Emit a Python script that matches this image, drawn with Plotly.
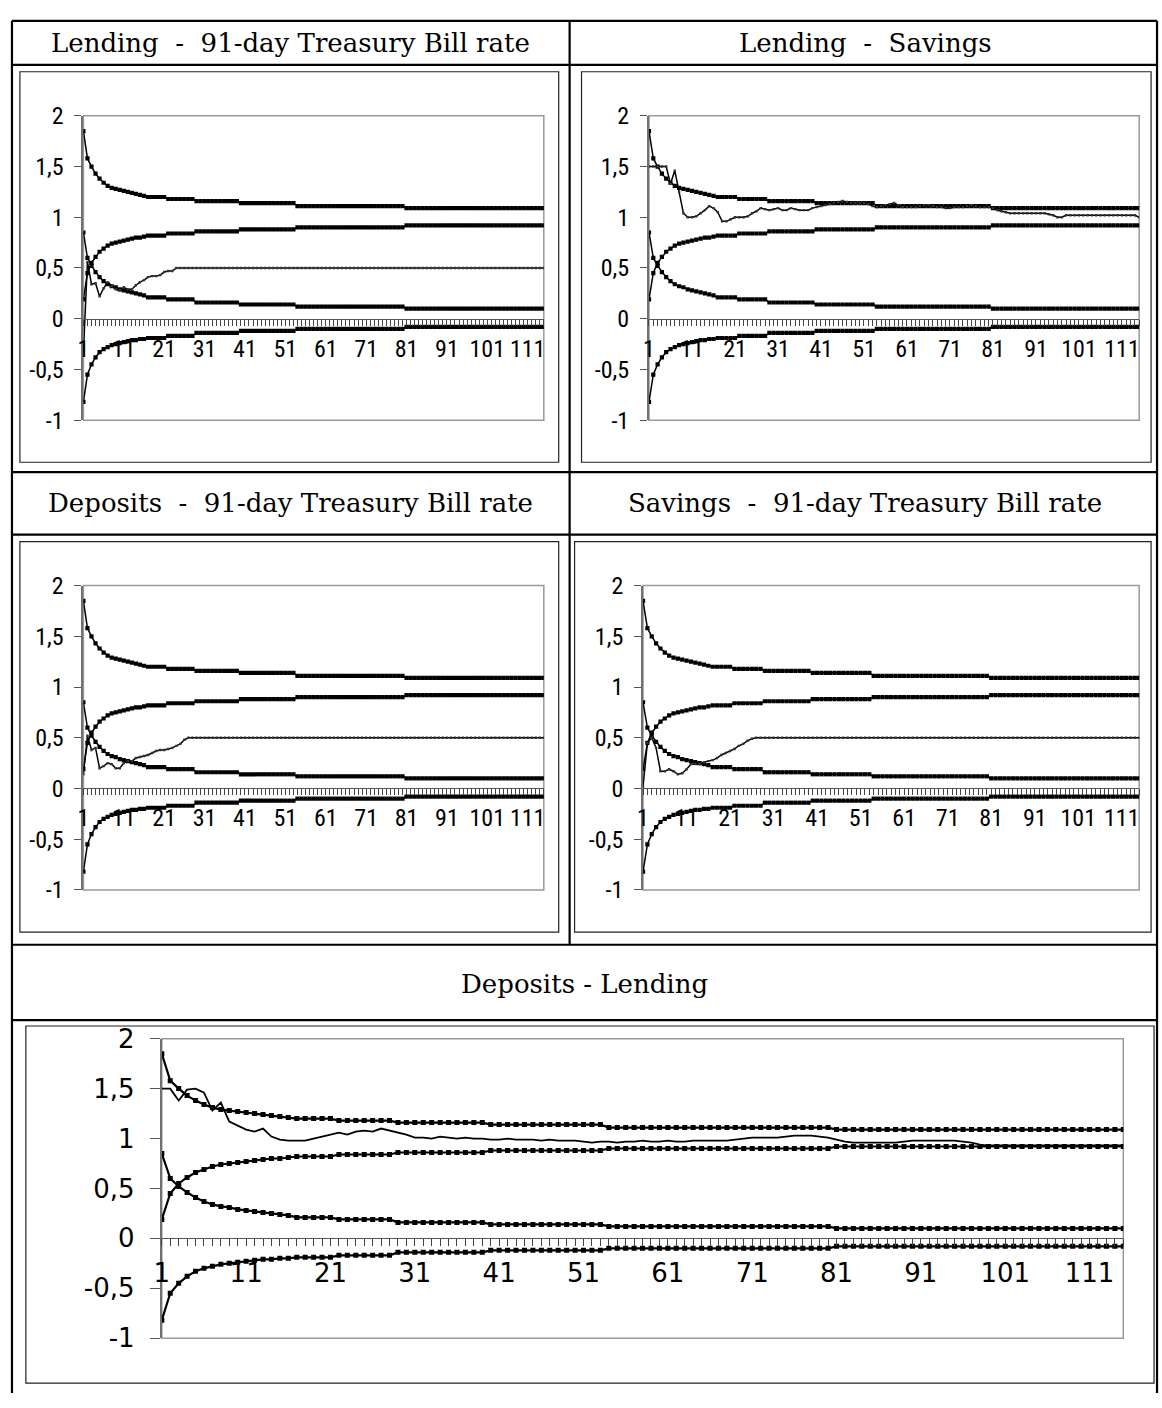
import plotly.graph_objects as go

W, H = 1162, 1408

CATEGORIES = list(range(1, 116))
X_TICKS = [1, 11, 21, 31, 41, 51, 61, 71, 81, 91, 101, 111]
X_TICK_TEXT = ["1", "11", "21", "31", "41", "51", "61", "71", "81", "91", "101", "111"]
Y_TICKS = [-1, -0.5, 0, 0.5, 1, 1.5, 2]
Y_TICK_TEXT = ["-1", "-0,5", "0", "0,5", "1", "1,5", "2"]

PANEL_TITLES = [
    "Lending\u00a0 -\u00a0 91-day Treasury Bill rate",
    "Lending\u00a0 -\u00a0 Savings",
    "Deposits\u00a0 -\u00a0 91-day Treasury Bill rate",
    "Savings\u00a0 -\u00a0 91-day Treasury Bill rate",
    "Deposits - Lending",
]

UPPER_1 = [
    1.85, 1.58, 1.50, 1.43, 1.38, 1.34, 1.31, 1.29, 1.28, 1.27,
    1.26, 1.25, 1.24, 1.23, 1.22, 1.21, 1.20, 1.20, 1.20, 1.20,
    1.20, 1.18, 1.18, 1.18, 1.18, 1.18, 1.18, 1.18, 1.16, 1.16,
    1.16, 1.16, 1.16, 1.16, 1.16, 1.16, 1.16, 1.16, 1.16, 1.14,
    1.14, 1.14, 1.14, 1.14, 1.14, 1.14, 1.14, 1.14, 1.14, 1.14,
    1.14, 1.14, 1.14, 1.11, 1.11, 1.11, 1.11, 1.11, 1.11, 1.11,
    1.11, 1.11, 1.11, 1.11, 1.11, 1.11, 1.11, 1.11, 1.11, 1.11,
    1.11, 1.11, 1.11, 1.11, 1.11, 1.11, 1.11, 1.11, 1.11, 1.11,
    1.09, 1.09, 1.09, 1.09, 1.09, 1.09, 1.09, 1.09, 1.09, 1.09,
    1.09, 1.09, 1.09, 1.09, 1.09, 1.09, 1.09, 1.09, 1.09, 1.09,
    1.09, 1.09, 1.09, 1.09, 1.09, 1.09, 1.09, 1.09, 1.09, 1.09,
    1.09, 1.09, 1.09, 1.09, 1.09,
]
LOWER_1 = [
    0.19, 0.45, 0.55, 0.61, 0.66, 0.69, 0.72, 0.74, 0.75, 0.76,
    0.77, 0.78, 0.79, 0.80, 0.80, 0.81, 0.82, 0.82, 0.82, 0.82,
    0.82, 0.84, 0.84, 0.84, 0.84, 0.84, 0.84, 0.84, 0.86, 0.86,
    0.86, 0.86, 0.86, 0.86, 0.86, 0.86, 0.86, 0.86, 0.86, 0.88,
    0.88, 0.88, 0.88, 0.88, 0.88, 0.88, 0.88, 0.88, 0.88, 0.88,
    0.88, 0.88, 0.88, 0.90, 0.90, 0.90, 0.90, 0.90, 0.90, 0.90,
    0.90, 0.90, 0.90, 0.90, 0.90, 0.90, 0.90, 0.90, 0.90, 0.90,
    0.90, 0.90, 0.90, 0.90, 0.90, 0.90, 0.90, 0.90, 0.90, 0.90,
    0.92, 0.92, 0.92, 0.92, 0.92, 0.92, 0.92, 0.92, 0.92, 0.92,
    0.92, 0.92, 0.92, 0.92, 0.92, 0.92, 0.92, 0.92, 0.92, 0.92,
    0.92, 0.92, 0.92, 0.92, 0.92, 0.92, 0.92, 0.92, 0.92, 0.92,
    0.92, 0.92, 0.92, 0.92, 0.92,
]
UPPER_0 = [
    0.85, 0.60, 0.52, 0.46, 0.41, 0.37, 0.34, 0.32, 0.31, 0.29,
    0.28, 0.27, 0.26, 0.25, 0.24, 0.23, 0.21, 0.21, 0.21, 0.21,
    0.21, 0.19, 0.19, 0.19, 0.19, 0.19, 0.19, 0.19, 0.16, 0.16,
    0.16, 0.16, 0.16, 0.16, 0.16, 0.16, 0.16, 0.16, 0.16, 0.14,
    0.14, 0.14, 0.14, 0.14, 0.14, 0.14, 0.14, 0.14, 0.14, 0.14,
    0.14, 0.14, 0.14, 0.12, 0.12, 0.12, 0.12, 0.12, 0.12, 0.12,
    0.12, 0.12, 0.12, 0.12, 0.12, 0.12, 0.12, 0.12, 0.12, 0.12,
    0.12, 0.12, 0.12, 0.12, 0.12, 0.12, 0.12, 0.12, 0.12, 0.12,
    0.10, 0.10, 0.10, 0.10, 0.10, 0.10, 0.10, 0.10, 0.10, 0.10,
    0.10, 0.10, 0.10, 0.10, 0.10, 0.10, 0.10, 0.10, 0.10, 0.10,
    0.10, 0.10, 0.10, 0.10, 0.10, 0.10, 0.10, 0.10, 0.10, 0.10,
    0.10, 0.10, 0.10, 0.10, 0.10,
]
LOWER_0 = [
    -0.82, -0.55, -0.45, -0.38, -0.33, -0.30, -0.28, -0.26, -0.25, -0.24,
    -0.23, -0.22, -0.21, -0.21, -0.20, -0.20, -0.19, -0.19, -0.19, -0.19,
    -0.19, -0.17, -0.17, -0.17, -0.17, -0.17, -0.17, -0.17, -0.14, -0.14,
    -0.14, -0.14, -0.14, -0.14, -0.14, -0.14, -0.14, -0.14, -0.14, -0.12,
    -0.12, -0.12, -0.12, -0.12, -0.12, -0.12, -0.12, -0.12, -0.12, -0.12,
    -0.12, -0.12, -0.12, -0.10, -0.10, -0.10, -0.10, -0.10, -0.10, -0.10,
    -0.10, -0.10, -0.10, -0.10, -0.10, -0.10, -0.10, -0.10, -0.10, -0.10,
    -0.10, -0.10, -0.10, -0.10, -0.10, -0.10, -0.10, -0.10, -0.10, -0.10,
    -0.08, -0.08, -0.08, -0.08, -0.08, -0.08, -0.08, -0.08, -0.08, -0.08,
    -0.08, -0.08, -0.08, -0.08, -0.08, -0.08, -0.08, -0.08, -0.08, -0.08,
    -0.08, -0.08, -0.08, -0.08, -0.08, -0.08, -0.08, -0.08, -0.08, -0.08,
    -0.08, -0.08, -0.08, -0.08, -0.08,
]

LENDING_TBILL = [
    -0.33, 0.56, 0.34, 0.35, 0.22, 0.30, 0.36, 0.32, 0.29, 0.28,
    0.31, 0.29, 0.29, 0.33, 0.36, 0.38, 0.41, 0.42, 0.42, 0.43,
    0.46, 0.47, 0.47, 0.50, 0.50, 0.50, 0.50, 0.50, 0.50, 0.50,
    0.50, 0.50, 0.50, 0.50, 0.50, 0.50, 0.50, 0.50, 0.50, 0.50,
    0.50, 0.50, 0.50, 0.50, 0.50, 0.50, 0.50, 0.50, 0.50, 0.50,
    0.50, 0.50, 0.50, 0.50, 0.50, 0.50, 0.50, 0.50, 0.50, 0.50,
    0.50, 0.50, 0.50, 0.50, 0.50, 0.50, 0.50, 0.50, 0.50, 0.50,
    0.50, 0.50, 0.50, 0.50, 0.50, 0.50, 0.50, 0.50, 0.50, 0.50,
    0.50, 0.50, 0.50, 0.50, 0.50, 0.50, 0.50, 0.50, 0.50, 0.50,
    0.50, 0.50, 0.50, 0.50, 0.50, 0.50, 0.50, 0.50, 0.50, 0.50,
    0.50, 0.50, 0.50, 0.50, 0.50, 0.50, 0.50, 0.50, 0.50, 0.50,
    0.50, 0.50, 0.50, 0.50, 0.50,
]
LENDING_SAVINGS = [
    1.50, 1.50, 1.50, 1.50, 1.50, 1.33, 1.46, 1.25, 1.04, 1.00,
    1.00, 1.01, 1.04, 1.07, 1.11, 1.09, 1.05, 0.96, 0.96, 0.98,
    1.00, 1.00, 1.00, 1.01, 1.04, 1.06, 1.09, 1.08, 1.07, 1.08,
    1.09, 1.07, 1.07, 1.09, 1.08, 1.07, 1.07, 1.07, 1.09, 1.10,
    1.11, 1.12, 1.13, 1.14, 1.15, 1.16, 1.15, 1.14, 1.14, 1.14,
    1.14, 1.13, 1.11, 1.10, 1.11, 1.12, 1.13, 1.14, 1.12, 1.10,
    1.10, 1.10, 1.10, 1.11, 1.12, 1.12, 1.11, 1.10, 1.10, 1.09,
    1.09, 1.10, 1.10, 1.10, 1.11, 1.12, 1.11, 1.10, 1.10, 1.10,
    1.09, 1.07, 1.06, 1.05, 1.04, 1.04, 1.04, 1.04, 1.04, 1.04,
    1.04, 1.04, 1.04, 1.03, 1.02, 1.00, 1.00, 1.02, 1.02, 1.02,
    1.02, 1.02, 1.02, 1.02, 1.02, 1.02, 1.02, 1.02, 1.02, 1.02,
    1.02, 1.02, 1.02, 1.02, 1.00,
]
DEPOSITS_TBILL = [
    0.14, 0.52, 0.38, 0.40, 0.20, 0.22, 0.25, 0.24, 0.20, 0.20,
    0.25, 0.27, 0.27, 0.30, 0.31, 0.32, 0.33, 0.35, 0.37, 0.38,
    0.38, 0.39, 0.40, 0.42, 0.44, 0.48, 0.50, 0.50, 0.50, 0.50,
    0.50, 0.50, 0.50, 0.50, 0.50, 0.50, 0.50, 0.50, 0.50, 0.50,
    0.50, 0.50, 0.50, 0.50, 0.50, 0.50, 0.50, 0.50, 0.50, 0.50,
    0.50, 0.50, 0.50, 0.50, 0.50, 0.50, 0.50, 0.50, 0.50, 0.50,
    0.50, 0.50, 0.50, 0.50, 0.50, 0.50, 0.50, 0.50, 0.50, 0.50,
    0.50, 0.50, 0.50, 0.50, 0.50, 0.50, 0.50, 0.50, 0.50, 0.50,
    0.50, 0.50, 0.50, 0.50, 0.50, 0.50, 0.50, 0.50, 0.50, 0.50,
    0.50, 0.50, 0.50, 0.50, 0.50, 0.50, 0.50, 0.50, 0.50, 0.50,
    0.50, 0.50, 0.50, 0.50, 0.50, 0.50, 0.50, 0.50, 0.50, 0.50,
    0.50, 0.50, 0.50, 0.50, 0.50,
]
SAVINGS_TBILL = [
    0.02, 0.45, 0.50, 0.40, 0.17, 0.17, 0.19, 0.17, 0.14, 0.15,
    0.19, 0.24, 0.24, 0.24, 0.26, 0.27, 0.28, 0.30, 0.33, 0.35,
    0.37, 0.39, 0.42, 0.44, 0.47, 0.49, 0.50, 0.50, 0.50, 0.50,
    0.50, 0.50, 0.50, 0.50, 0.50, 0.50, 0.50, 0.50, 0.50, 0.50,
    0.50, 0.50, 0.50, 0.50, 0.50, 0.50, 0.50, 0.50, 0.50, 0.50,
    0.50, 0.50, 0.50, 0.50, 0.50, 0.50, 0.50, 0.50, 0.50, 0.50,
    0.50, 0.50, 0.50, 0.50, 0.50, 0.50, 0.50, 0.50, 0.50, 0.50,
    0.50, 0.50, 0.50, 0.50, 0.50, 0.50, 0.50, 0.50, 0.50, 0.50,
    0.50, 0.50, 0.50, 0.50, 0.50, 0.50, 0.50, 0.50, 0.50, 0.50,
    0.50, 0.50, 0.50, 0.50, 0.50, 0.50, 0.50, 0.50, 0.50, 0.50,
    0.50, 0.50, 0.50, 0.50, 0.50, 0.50, 0.50, 0.50, 0.50, 0.50,
    0.50, 0.50, 0.50, 0.50, 0.50,
]
DEPOSITS_LENDING = [
    1.50, 1.50, 1.38, 1.49, 1.50, 1.46, 1.28, 1.36, 1.17, 1.13,
    1.09, 1.07, 1.10, 1.02, 0.99, 0.98, 0.98, 0.98, 1.00, 1.02,
    1.04, 1.06, 1.04, 1.07, 1.08, 1.07, 1.10, 1.08, 1.06, 1.04,
    1.01, 1.01, 1.00, 1.02, 1.01, 1.00, 1.01, 1.00, 1.00, 0.99,
    0.99, 1.00, 0.99, 0.99, 0.99, 0.98, 0.99, 0.98, 0.98, 0.98,
    0.97, 0.96, 0.97, 0.97, 0.96, 0.97, 0.97, 0.98, 0.97, 0.97,
    0.98, 0.97, 0.97, 0.98, 0.98, 0.98, 0.98, 0.98, 0.99, 1.00,
    1.01, 1.01, 1.01, 1.01, 1.02, 1.03, 1.03, 1.03, 1.02, 1.01,
    0.99, 0.97, 0.96, 0.96, 0.96, 0.96, 0.96, 0.96, 0.97, 0.98,
    0.98, 0.98, 0.98, 0.98, 0.98, 0.97, 0.96, 0.94, 0.93, 0.93,
    0.93, 0.93, 0.93, 0.93, 0.93, 0.93, 0.93, 0.93, 0.93, 0.93,
    0.93, 0.93, 0.93, 0.93, 0.93,
]

SERIES = [LENDING_TBILL, LENDING_SAVINGS, DEPOSITS_TBILL, SAVINGS_TBILL, DEPOSITS_LENDING]
BANDS = [UPPER_1, LOWER_1, UPPER_0, LOWER_0]

# ---- layout geometry (pixels) ----
NARROW = "Liberation Sans Narrow, Arial Narrow, Roboto Condensed, DejaVu Sans Condensed, Liberation Sans, sans-serif"
WIDE = "DejaVu Sans, Verdana, sans-serif"
SERIF = "DejaVu Serif, Liberation Serif, serif"

PANELS = [
    dict(box=(12, 58, 555, 457), plot=(76, 103, 540, 414), head=(285, 29), big=False),
    dict(box=(578, 58, 1152, 457), plot=(646, 103, 1140, 414), head=(864, 29), big=False),
    dict(box=(12, 538, 555, 937), plot=(76, 583, 540, 894), head=(285, 499), big=False),
    dict(box=(571, 538, 1152, 937), plot=(640, 583, 1140, 894), head=(864, 499), big=False),
    dict(box=(18, 1033, 1155, 1398), plot=(155, 1046, 1124, 1352), head=(581, 990), big=True),
]

def px(x):
    return x / W

def py(y):
    return 1 - y / H

fig = go.Figure()
shapes = []
annotations = []
layout_axes = {}

for i, (p, ser, title) in enumerate(zip(PANELS, SERIES, PANEL_TITLES), start=1):
    xa = "x" if i == 1 else f"x{i}"
    ya = "y" if i == 1 else f"y{i}"
    xkey = "xaxis" if i == 1 else f"xaxis{i}"
    ykey = "yaxis" if i == 1 else f"yaxis{i}"
    l, t, r, b = p["plot"]
    y0, y1 = py(b), py(t)
    zero_pos = y0 + (y1 - y0) / 3.0
    big = p["big"]
    msize = 5.0 if big else 4.2
    lw = 2.2 if big else 1.5

    for band in BANDS:
        fig.add_trace(go.Scatter(
            x=CATEGORIES, y=band, xaxis=xa, yaxis=ya, mode="lines+markers",
            line=dict(color="black", width=lw),
            marker=dict(symbol="square", size=msize, color="black", line=dict(width=0)),
            hoverinfo="skip", showlegend=False,
        ))
    fig.add_trace(go.Scatter(
        x=CATEGORIES, y=ser, xaxis=xa, yaxis=ya, mode="lines+markers",
        line=dict(color="black", width=1.8 if big else 1.5),
        marker=dict(symbol="square", size=2.4 if not big else 0.1, color="#333333", line=dict(width=0)),
        hoverinfo="skip", showlegend=False,
    ))

    if big:
        tickfont = dict(family=WIDE, size=26, color="black")
    else:
        tickfont = dict(family=NARROW, size=24, color="black")
    layout_axes[xkey] = dict(
        domain=[px(l), px(r)], range=[1, 115], anchor="free", position=zero_pos,
        showline=True, linecolor="#555555", linewidth=1,
        tickmode="array", tickvals=X_TICKS, ticktext=X_TICK_TEXT,
        ticks="outside", ticklen=7 if big else 6, tickcolor="#444444", tickwidth=1,
        minor=dict(tickmode="linear", tick0=1, dtick=1, ticks="outside",
                   ticklen=7 if big else 6, tickcolor="#444444", tickwidth=1),
        ticklabelstandoff=4 if big else 2,
        showgrid=False, zeroline=False, tickfont=tickfont, fixedrange=True,
    )
    layout_axes[ykey] = dict(
        domain=[y0, y1], range=[-1, 2], anchor=xa,
        tickmode="array", tickvals=Y_TICKS, ticktext=Y_TICK_TEXT,
        ticks="outside", ticklen=10 if big else 7, tickcolor="#555555",
        ticklabelstandoff=10 if big else 6,
        showline=True, linecolor="#707070", linewidth=2,
        showgrid=False, zeroline=False, tickfont=tickfont, fixedrange=True,
    )
    # plot area border
    shapes.append(dict(type="rect", xref=f"{xa} domain", yref=f"{ya} domain",
                       x0=0, x1=1, y0=0, y1=1, line=dict(color="#9a9a9a", width=1.5), layer="below"))
    # chart box
    bl, bt, br, bb = p["box"]
    shapes.append(dict(type="rect", xref="paper", yref="paper",
                       x0=px(bl), x1=px(br), y0=py(bb), y1=py(bt),
                       line=dict(color="#222222", width=1.2), layer="below"))
    hx, hy = p["head"]
    annotations.append(dict(text=title, x=px(hx), y=py(hy), xref="paper", yref="paper",
                            xanchor="center", yanchor="middle", showarrow=False,
                            font=dict(family=SERIF, size=26, color="black")))

# table rules
TABLE_H = [6, 51, 467, 531, 950, 1027]
for yy in TABLE_H:
    shapes.append(dict(type="line", xref="paper", yref="paper", x0=px(4), x1=px(1158),
                       y0=py(yy), y1=py(yy), line=dict(color="black", width=2.2)))
for xx in (4, 1158):
    shapes.append(dict(type="line", xref="paper", yref="paper", x0=px(xx), x1=px(xx),
                       y0=py(6), y1=0, line=dict(color="black", width=2.2)))
shapes.append(dict(type="line", xref="paper", yref="paper", x0=px(566), x1=px(566),
                   y0=py(6), y1=py(950), line=dict(color="black", width=2.2)))

fig.update_layout(
    width=W, height=H, margin=dict(l=0, r=0, t=0, b=0),
    paper_bgcolor="white", plot_bgcolor="white", showlegend=False,
    shapes=shapes, annotations=annotations, **layout_axes,
)

fig.write_html("out.html")
